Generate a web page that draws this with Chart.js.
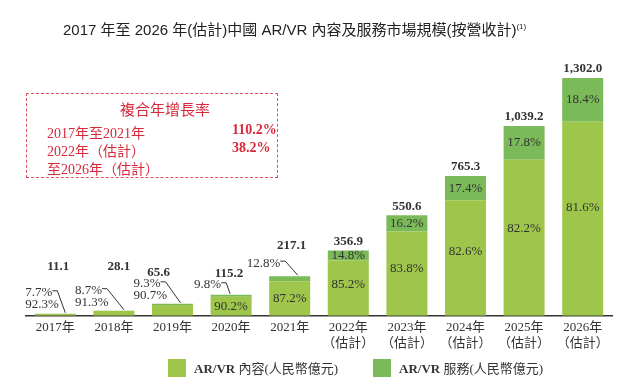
<!DOCTYPE html>
<html>
<head>
<meta charset="utf-8">
<script src="https://cdn.jsdelivr.net/npm/chart.js@4.4.1/dist/chart.umd.min.js"></script>
<style>
  html, body { margin: 0; padding: 0; background: #fff; }
  #wrap { position: relative; width: 623px; height: 386px; overflow: hidden; }
  #chart { position: absolute; left: 0; top: 0; }
  .title { position: absolute; left: 63px; top: 18px; font: 15px 'Liberation Sans', 'Noto Sans CJK TC', sans-serif; color: #222; white-space: nowrap; }
  .title sup { font-size: 8px; vertical-align: 6px; }
  .cagr { position: absolute; left: 26px; top: 93px; width: 250px; height: 83px; border: 1.5px dashed #e0505c; color: #d8283a;
          font-family: 'Liberation Serif', 'Noto Sans CJK TC', serif; }
  .cagr div { position: absolute; white-space: nowrap; }
  .legend { position: absolute; top: 358px; font: 13px 'Liberation Serif', 'Noto Sans CJK TC', serif; color: #333; white-space: nowrap; }
  .legend span.box { display: inline-block; width: 18px; height: 18px; vertical-align: middle; margin-right: 8px; }
  .legend span.txt { vertical-align: middle; }
</style>
</head>
<body>
<div id="wrap">
  <canvas id="chart" width="623" height="386"></canvas>
  <div class="title">2017 年至 2026 年(估計)中國 AR/VR 內容及服務市場規模(按營收計)<sup>(1)</sup></div>
  <div class="cagr">
    <div style="left:93px; top:4px; font-size:15px;">複合年增長率</div>
    <div style="left:20px; top:28px; font-size:14px;">2017年至2021年</div>
    <div style="left:20px; top:46px; font-size:14px;">2022年（估計）</div>
    <div style="left:20px; top:64px; font-size:14px;">至2026年（估計）</div>
    <div style="left:205px; top:28px; font-size:14px; font-weight:bold;">110.2%</div>
    <div style="left:205px; top:46px; font-size:14px; font-weight:bold;">38.2%</div>
  </div>
  <div class="legend" style="left:168px;"><span class="box" style="background:#9ec64a"></span><span class="txt"><b>AR/VR</b> 內容(人民幣億元)</span></div>
  <div class="legend" style="left:373px;"><span class="box" style="background:#7bba58"></span><span class="txt"><b>AR/VR</b> 服務(人民幣億元)</span></div>
</div>
<script>
const categories = ['2017年', '2018年', '2019年', '2020年', '2021年',
  ['2022年', '（估計）'], ['2023年', '（估計）'], ['2024年', '（估計）'], ['2025年', '（估計）'], ['2026年', '（估計）']];
const totals = [11.1, 28.1, 65.6, 115.2, 217.1, 356.9, 550.6, 765.3, 1039.2, 1302.0];
const totalLabels = ['11.1', '28.1', '65.6', '115.2', '217.1', '356.9', '550.6', '765.3', '1,039.2', '1,302.0'];
const contentValues = [10.25, 25.66, 59.50, 103.91, 189.31, 304.08, 461.40, 632.14, 854.22, 1062.43];
const serviceValues = [0.85, 2.44, 6.10, 11.29, 27.79, 52.82, 89.20, 133.16, 184.98, 239.57];
const contentPct = ['92.3%', '91.3%', '90.7%', '90.2%', '87.2%', '85.2%', '83.8%', '82.6%', '82.2%', '81.6%'];
const servicePct = ['7.7%', '8.7%', '9.3%', '9.8%', '12.8%', '14.8%', '16.2%', '17.4%', '17.8%', '18.4%'];

const serif = "'Liberation Serif', 'Noto Sans CJK TC', serif";

// callouts for the small bars: where the service % sits relative to bar centre / top
const callouts = [
  { dx: -30, dy: -21, inside: false, ex: 10, tdx: 3, tdy: -47 },
  { dx: -39, dy: -20, inside: false, ex: 10, tdx: 5, tdy: -44 },
  { dx: -39, dy: -20, inside: false, ex: 8, tdx: -14, tdy: -31 },
  { dx: -37, dy: -10, inside: true, ex: -1, tdx: -2, tdy: -21 },
  { dx: -43, dy: -13, inside: true, ex: 8, tdx: 2, tdy: -30 }
];

const barLabels = {
  id: 'barLabels',
  afterDatasetsDraw(chart) {
    const ctx = chart.ctx;
    const m0 = chart.getDatasetMeta(0).data;
    const m1 = chart.getDatasetMeta(1).data;
    ctx.save();
    ctx.fillStyle = '#333';
    ctx.strokeStyle = '#333';
    ctx.lineWidth = 1;
    for (let i = 0; i < totals.length; i++) {
      const c = m0[i], s = m1[i];
      const x = c.x, top = s.y;
      ctx.textBaseline = 'middle';
      if (i < callouts.length) {
        const co = callouts[i];
        const lx = x + co.dx, ly = top + co.dy;
        ctx.font = '13px ' + serif;
        ctx.textAlign = 'left';
        ctx.fillText(servicePct[i], lx, ly);
        const w = ctx.measureText(servicePct[i]).width;
        ctx.beginPath();
        ctx.moveTo(lx + w, ly - 2);
        ctx.lineTo(lx + w + 5, ly - 2);
        ctx.lineTo(x + co.ex, top - 1);
        ctx.stroke();
        if (co.inside) {
          ctx.textAlign = 'center';
          ctx.fillText(contentPct[i], x, (c.y + c.base) / 2);
        } else {
          ctx.fillText(contentPct[i], lx, ly + 12);
        }
        ctx.font = 'bold 13px ' + serif;
        ctx.textAlign = 'center';
        ctx.fillText(totalLabels[i], x + co.tdx, top + co.tdy);
      } else {
        ctx.font = '13px ' + serif;
        ctx.textAlign = 'center';
        ctx.fillText(servicePct[i], x, (s.y + s.base) / 2);
        ctx.fillText(contentPct[i], x, c.y + (c.base - c.y) * 0.44);
        ctx.font = 'bold 13px ' + serif;
        ctx.fillText(totalLabels[i], x, top - 9);
      }
    }
    ctx.restore();
  }
};

new Chart(document.getElementById('chart'), {
  type: 'bar',
  data: {
    labels: categories,
    datasets: [
      { label: 'AR/VR 內容(人民幣億元)', data: contentValues, backgroundColor: '#9ec64a' },
      { label: 'AR/VR 服務(人民幣億元)', data: serviceValues, backgroundColor: '#7bba58' }
    ]
  },
  options: {
    responsive: false,
    animation: false,
    layout: { padding: { left: 26, right: 11, top: 60, bottom: 31 } },
    datasets: { bar: { barPercentage: 0.7, categoryPercentage: 1 } },
    plugins: { legend: { display: false }, tooltip: { enabled: false } },
    scales: {
      x: {
        stacked: true,
        grid: { display: false, drawTicks: false },
        border: { color: '#333', width: 1.5 },
        ticks: { color: '#333', padding: 4, maxRotation: 0, autoSkip: false, font: { size: 13, family: serif } }
      },
      y: { stacked: true, display: false, min: 0, max: 1400 }
    }
  },
  plugins: [barLabels]
});
</script>
</body>
</html>
